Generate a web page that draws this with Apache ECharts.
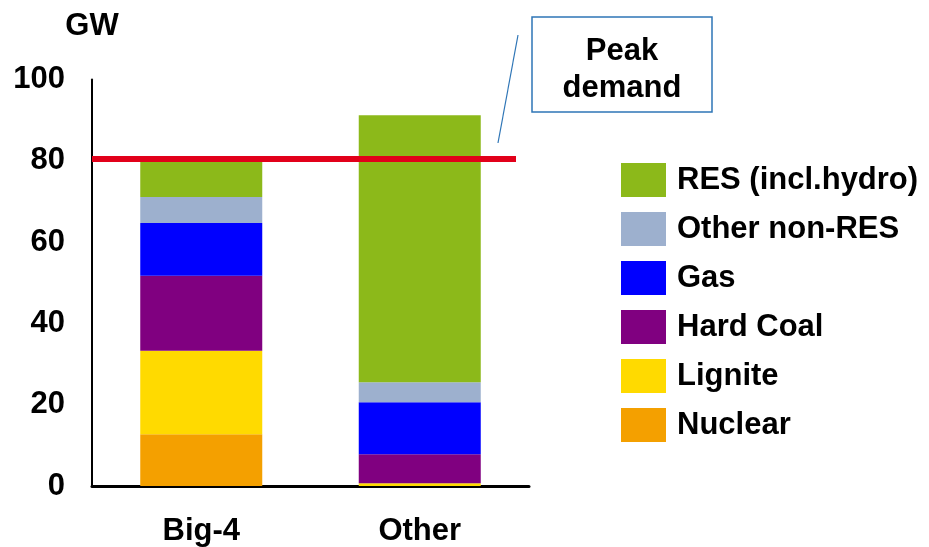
<!DOCTYPE html>
<html>
<head>
<meta charset="utf-8">
<script src="https://cdn.jsdelivr.net/npm/echarts@6/dist/echarts.min.js"></script>
<style>
  html, body { margin: 0; padding: 0; background: #fff; }
  #chart { width: 929px; height: 547px; }
</style>
</head>
<body>
<div id="chart"></div>
<script>
// Installed capacity by owner group, GW
const categories = ['Big-4', 'Other'];
const nuclear      = [12.7, 0];
const lignite      = [20.6, 0.7];
const hardCoal     = [18.4, 7.1];
const gas          = [13.0, 12.8];
const otherNonRes  = [6.4, 4.9];
const res          = [8.9, 65.7];
const peakDemand   = 80.6;
const yTicks       = [0, 20, 40, 60, 80, 100];

const FONT = '"Liberation Sans", Arial, sans-serif';

const seriesDefs = [
  { name: 'Nuclear',          data: nuclear,     color: '#F4A000' },
  { name: 'Lignite',          data: lignite,     color: '#FFDA00' },
  { name: 'Hard Coal',        data: hardCoal,    color: '#800080' },
  { name: 'Gas',              data: gas,         color: '#0000FF' },
  { name: 'Other non-RES',    data: otherNonRes, color: '#9DB0CE' },
  { name: 'RES (incl.hydro)', data: res,         color: '#8CB91A' }
];

const series = seriesDefs.map(function (s) {
  return {
    name: s.name,
    type: 'bar',
    stack: 'capacity',
    barWidth: 122,
    data: s.data,
    itemStyle: { color: s.color },
    emphasis: { disabled: true }
  };
});

// Peak demand line across the plot
series.push({
  name: 'Peak demand',
  type: 'line',
  data: [],
  silent: true,
  markLine: {
    silent: true,
    symbol: 'none',
    label: { show: false },
    lineStyle: { color: '#E2001A', width: 6, type: 'solid' },
    data: [[
      { yAxis: peakDemand, x: 92 },
      { yAxis: peakDemand, x: 516 }
    ]]
  }
});

const chart = echarts.init(document.getElementById('chart'), null, { renderer: 'canvas' });

chart.setOption({
  animation: false,
  backgroundColor: '#ffffff',
  grid: { left: 92, right: 400, top: 79.5, bottom: 60, containLabel: false },
  legend: {
    orient: 'vertical',
    left: 616,
    top: 158,
    itemWidth: 45,
    itemHeight: 34,
    itemGap: 15,
    itemStyle: { borderWidth: 0 },
    icon: 'rect',
    textStyle: { fontFamily: FONT, fontSize: 31, fontWeight: 'bold', color: '#000', padding: [7, 0, 0, 6] },
    data: seriesDefs.slice().reverse().map(function (s) { return s.name; })
  },
  xAxis: {
    type: 'category',
    data: categories,
    axisLine: { lineStyle: { color: '#000', width: 3 } },
    axisTick: { show: false },
    axisLabel: { fontFamily: FONT, fontSize: 31, fontWeight: 'bold', color: '#000', margin: 30 }
  },
  yAxis: {
    type: 'value',
    min: yTicks[0],
    max: yTicks[yTicks.length - 1],
    interval: yTicks[1] - yTicks[0],
    name: 'GW',
    nameLocation: 'end',
    nameGap: 38,
    nameTextStyle: { fontFamily: FONT, fontSize: 31, fontWeight: 'bold', color: '#000', align: 'center' },
    axisLine: { show: true, lineStyle: { color: '#000', width: 2 } },
    axisTick: { show: false },
    splitLine: { show: false },
    axisLabel: { fontFamily: FONT, fontSize: 31, fontWeight: 'bold', color: '#000', margin: 27, padding: [4, 0, 0, 0] }
  },
  series: series,
  graphic: [
    {
      type: 'line',
      shape: { x1: 518, y1: 35, x2: 498, y2: 143 },
      style: { stroke: '#2E75B6', lineWidth: 1.2 },
      silent: true
    },
    {
      type: 'rect',
      shape: { x: 532, y: 17, width: 180, height: 95 },
      style: { fill: '#fff', stroke: '#2E75B6', lineWidth: 1.5 },
      silent: true
    },
    {
      type: 'text',
      x: 622,
      y: 69.5,
      style: {
        text: 'Peak\ndemand',
        fontFamily: FONT,
        fontSize: 31,
        fontWeight: 'bold',
        fill: '#000',
        align: 'center',
        verticalAlign: 'middle',
        lineHeight: 37
      },
      silent: true
    }
  ]
});
</script>
</body>
</html>
